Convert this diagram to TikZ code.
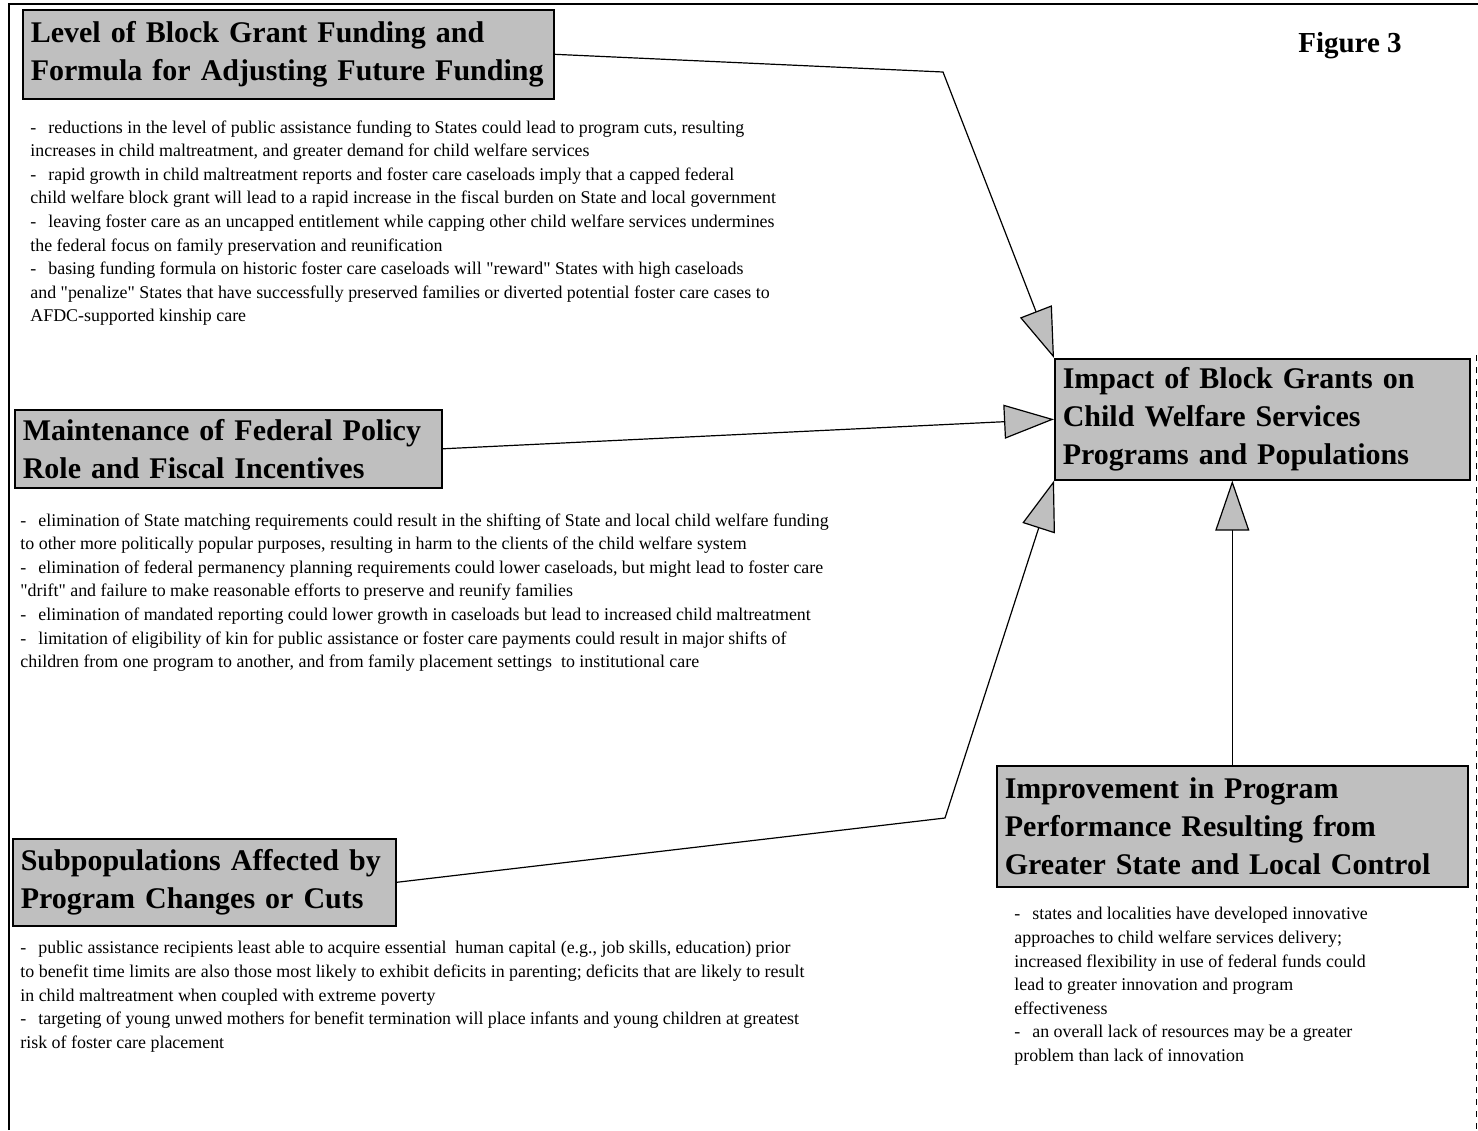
\documentclass[tikz,border=0pt]{standalone}
\usepackage{fontspec}
\setmainfont{Liberation Serif}[Ligatures=TeXOff]
\usetikzlibrary{arrows.meta}
\definecolor{boxgray}{gray}{0.75}
\newcommand\dsh{-\hspace{6pt}}
\tikzset{
 hbox/.style={draw=black, line width=0.8pt, fill=boxgray, anchor=north west, inner xsep=4pt, inner ysep=0pt, align=left, font=\fontsize{15}{19}\selectfont\bfseries},
 body/.style={anchor=north west, inner sep=0pt, align=left, font=\fontsize{8.95}{11.8}\selectfont},
 conn/.style={line width=0.6pt, -{Triangle[length=25pt,width=17pt,fill=boxgray]}},
 frame/.style={line width=0.8pt},
}
\begin{document}
\begin{tikzpicture}[x=0.5pt,y=-0.5pt]
\useasboundingbox (0,0) rectangle (1478,1130);
% frame
\draw[frame] (9,1130) -- (9,4) -- (1478,4);
\draw[line width=0.4pt, dashed] (1476,355) -- (1476,1130);

% title
\node[font=\fontsize{14.5}{16}\selectfont\bfseries, anchor=center] (fig) at (1350,46) {Figure 3};

% heading boxes
\node[hbox, minimum width=265.5pt, minimum height=44.5pt, text width=257.5pt] (lvl) at (22,9)
 {Level of Block Grant Funding and\\Formula for Adjusting Future Funding};
\node[hbox, minimum width=213.5pt, minimum height=39pt, text width=205.5pt] (mnt) at (14,409)
 {Maintenance of Federal Policy\\Role and Fiscal Incentives};
\node[hbox, minimum width=191.5pt, minimum height=43.5pt, text width=183.5pt, inner xsep=2pt] (sub) at (12,838)
 {Subpopulations Affected by\\Program Changes or Cuts};
\node[hbox, minimum width=207.5pt, minimum height=60.5pt, text width=199.5pt] (imp) at (1054,358)
 {Impact of Block Grants on\\Child Welfare Services\\Programs and Populations};
\node[hbox, minimum width=235.5pt, minimum height=60.5pt, text width=227.5pt, inner xsep=2pt] (ipr) at (996,765)
 {Improvement in Program\\Performance Resulting from\\Greater State and Local Control};

% body texts
\node[body] (t1) at (30,120) {%
\dsh reductions in the level of\ public assistance funding to States could lead to program cuts,\ resulting\\
increases in child maltreatment, and greater demand for child welfare services\\
\dsh rapid growth in child maltreatment reports and foster care caseloads imply that a capped federal\\
child welfare block grant will lead to a rapid increase in the fiscal burden on State and local government\\
\dsh leaving foster care as an uncapped entitlement while capping other child welfare services undermines\\
the federal focus on family preservation and reunification\\
\dsh basing funding formula on historic foster care caseloads will "reward" States with high caseloads\\
and "penalize" States that have successfully preserved families or diverted potential foster care cases to\\
AFDC-supported kinship care};

\node[body] (t2) at (20,513) {%
\dsh elimination of State matching requirements could result in the shifting of State and local child welfare funding\\
to other more politically popular purposes, resulting in harm to the clients of the child welfare system\\
\dsh elimination of federal permanency planning requirements could lower caseloads, but might lead to foster care\\
"drift" and failure to make reasonable efforts to preserve and reunify families\\
\dsh elimination of mandated reporting could lower growth in caseloads but lead to increased child maltreatment\\
\dsh limitation of eligibility of kin for public assistance or foster care payments could result in major shifts of\\
children from one program to another, and from family placement settings\ \ to institutional care};

\node[body] (t3) at (20,941) {%
\dsh public assistance recipients least able to acquire essential\ \ human capital (e.g., job skills, education) prior\\
to benefit time limits are also those most likely to exhibit deficits in parenting; deficits that are likely to result\\
in child maltreatment when coupled with extreme poverty\\
\dsh targeting of young unwed mothers for benefit termination will place infants and young children at greatest\\
risk of foster care placement};

\node[body] (t5) at (1014,907) {%
\dsh states and localities have developed innovative\\
approaches to child welfare services delivery;\\
increased flexibility in use of federal funds could\\
lead to greater innovation and program\\
effectiveness\\
\dsh an overall lack of resources may be a greater\\
problem than lack of innovation};

% connectors
\coordinate (b1) at (943,72);
\coordinate (b3) at (945,818);
\draw[conn] (lvl.east) -- (b1) -- (imp.north west);
\draw[conn] (mnt.east) -- (imp.west);
\draw[conn] (sub.east) -- (b3) -- (imp.south west);
\draw[conn] (ipr.north) -- (ipr.north |- imp.south);
\end{tikzpicture}
\end{document}
